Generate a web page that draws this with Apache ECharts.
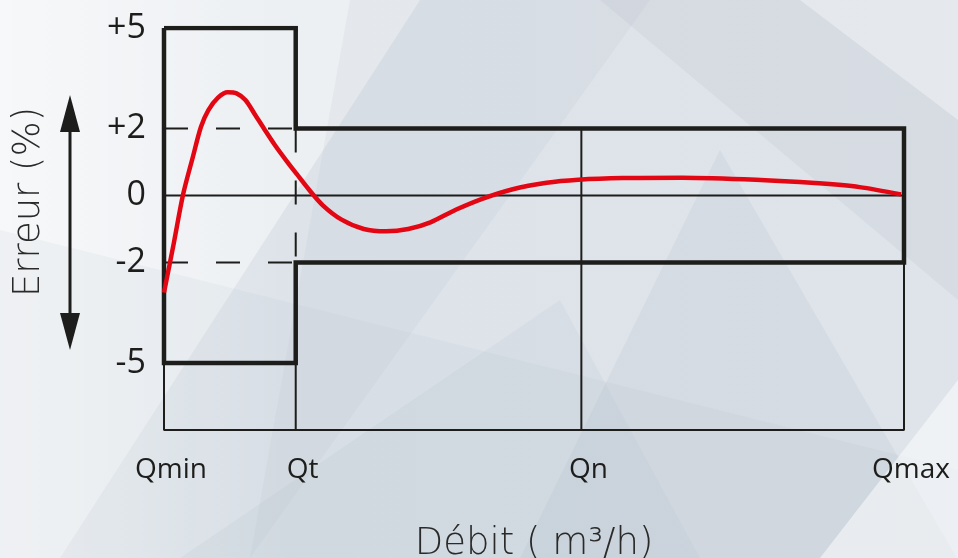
<!DOCTYPE html>
<html>
<head>
<meta charset="utf-8">
<script src="https://cdn.jsdelivr.net/npm/echarts@6/dist/echarts.min.js"></script>
<style>
  html, body { margin: 0; padding: 0; }
  #chart { width: 958px; height: 558px; }
</style>
</head>
<body>
<div id="chart"></div>
<script>
// débit positions (Qmin = 0, Qmax = 100)
const flowNames = ['Qmin', 'Qt', 'Qn', 'Qmax'];
const flowValues = [0, 17.8, 56.4, 100];

// tick labels of the error axis
const errorTicks = [5, 2, 0, -2, -5];
const errorLabels = ['+5', '+2', '0', '-2', '-5'];

// measured error curve (x = débit, y = erreur %)
const curveX = [0, 1.3, 2.6, 3.9, 5.0, 6.0, 7.3, 8.6, 9.8, 11.0, 12.2, 13.5, 15.0, 16.5, 17.9, 19.5, 21.5, 24, 27, 30, 33, 36, 39.5, 43, 47, 51.7, 56, 62, 70, 80, 88, 94, 99.6];
const curveY = [-2.9, -1.45, 0.05, 1.15, 2.05, 2.55, 2.92, 3.08, 3.05, 2.85, 2.45, 2.0, 1.5, 1.05, 0.65, 0.2, -0.3, -0.72, -1.0, -1.07, -1.0, -0.8, -0.42, -0.1, 0.18, 0.38, 0.47, 0.52, 0.53, 0.47, 0.37, 0.25, 0.03];

// tolerance limits: ±5 between Qmin and Qt, ±2 between Qt and Qmax
const Qmin = flowValues[0], Qt = flowValues[1], Qn = flowValues[2], Qmax = flowValues[3];
const limitPath = [[Qmin, 5], [Qt, 5], [Qt, 2], [Qmax, 2], [Qmax, -2], [Qt, -2], [Qt, -5], [Qmin, -5], [Qmin, 5]];

// thin frame lines
const thinLines = [
  [[Qmin, 0], [Qmax, 0]],
  [[Qmin, -5], [Qmin, -7], [Qmax, -7], [Qmax, -2]],
  [[Qt, -5], [Qt, -7]],
  [[Qn, 2], [Qn, -7]]
];
// dashed guides
const dashedLines = [
  [[Qmin, 2], [Qt, 2]],
  [[Qmin, -2], [Qt, -2]],
  [[Qt, 2], [Qt, -2]]
];

const ink = '#1d1d1b';
const chart = echarts.init(document.getElementById('chart'));

const series = [];
thinLines.forEach((seg) => {
  series.push({ type: 'line', data: seg, symbol: 'none', silent: true, lineStyle: { color: ink, width: 2 }, z: 2 });
});
dashedLines.forEach((seg) => {
  series.push({ type: 'line', data: seg, symbol: 'none', silent: true, lineStyle: { color: ink, width: 2, type: [24, 28] }, z: 2 });
});
series.push({
  type: 'line',
  data: limitPath,
  symbol: 'none',
  silent: true,
  lineStyle: { color: ink, width: 4.5, join: 'miter' },
  z: 3
});
series.push({
  type: 'line',
  data: curveX.map((x, i) => [x, curveY[i]]),
  smooth: 0.3,
  symbol: 'none',
  lineStyle: { color: '#e30613', width: 4.5 },
  z: 4
});

// decorative background facets
const facets = [
  { pts: [[0, 0], [420, 0], [60, 558], [0, 558]], c: 'rgba(255,255,255,0.45)' },
  { pts: [[350, 0], [650, 0], [250, 558]], c: 'rgba(170,182,196,0.12)' },
  { pts: [[600, 0], [958, 0], [958, 300]], c: 'rgba(160,172,188,0.13)' },
  { pts: [[720, 150], [958, 560], [520, 558]], c: 'rgba(150,165,182,0.12)' },
  { pts: [[0, 230], [958, 470], [958, 558], [0, 558]], c: 'rgba(170,182,196,0.10)' },
  { pts: [[820, 558], [958, 380], [958, 558]], c: 'rgba(255,255,255,0.5)' },
  { pts: [[180, 558], [560, 300], [700, 558]], c: 'rgba(160,172,188,0.10)' },
  { pts: [[800, 0], [958, 0], [958, 120]], c: 'rgba(255,255,255,0.35)' }
];

chart.setOption({
  animation: false,
  backgroundColor: {
    type: 'linear', x: 0, y: 0, x2: 1, y2: 0,
    colorStops: [
      { offset: 0, color: '#f0f2f5' },
      { offset: 0.3, color: '#dde3e9' },
      { offset: 1, color: '#dfe4ea' }
    ]
  },
  graphic: [
    ...facets.map((f) => ({
      type: 'polygon', silent: true, z: -10,
      shape: { points: f.pts },
      style: { fill: f.c }
    })),
    // double arrow next to the error axis title
    { type: 'line', shape: { x1: 70, y1: 120, x2: 70, y2: 320 }, style: { stroke: ink, lineWidth: 3 } },
    { type: 'polygon', shape: { points: [[70, 95], [60, 132], [80, 132]] }, style: { fill: ink } },
    { type: 'polygon', shape: { points: [[70, 350], [60, 313], [80, 313]] }, style: { fill: ink } }
  ],
  grid: { left: 164, right: 54, top: 28, bottom: 128, containLabel: false, outerBoundsMode: 'none' },
  xAxis: {
    type: 'value',
    min: 0,
    max: 100,
    name: 'Débit ( m³/h)',
    nameLocation: 'middle',
    nameGap: 96,
    nameTextStyle: { fontFamily: 'DejaVu Sans', fontSize: 37, fontWeight: 200, color: '#2a2a2a' },
    axisLine: { show: false },
    axisTick: { show: false },
    splitLine: { show: false },
    axisLabel: {
      customValues: flowValues,
      margin: 26,
      padding: [0, 0, 0, 14],
      fontFamily: 'Open Sans',
      fontSize: 28,
      color: ink,
      formatter: (v) => flowNames[flowValues.indexOf(v)] || ''
    }
  },
  yAxis: {
    type: 'value',
    min: -7,
    max: 5,
    interval: 1,
    name: 'Erreur (%)',
    nameLocation: 'middle',
    nameRotate: 90,
    nameGap: 116,
    nameTextStyle: { fontFamily: 'DejaVu Sans', fontSize: 37, fontWeight: 200, color: '#2a2a2a', padding: [0, 0, 0, 54] },
    axisLine: { show: false },
    axisTick: { show: false },
    splitLine: { show: false },
    axisLabel: {
      customValues: errorTicks,
      margin: 18,
      fontFamily: 'Open Sans',
      fontSize: 34,
      color: ink,
      formatter: (v) => errorLabels[errorTicks.indexOf(v)] || ''
    }
  },
  series: series
});
</script>
</body>
</html>
